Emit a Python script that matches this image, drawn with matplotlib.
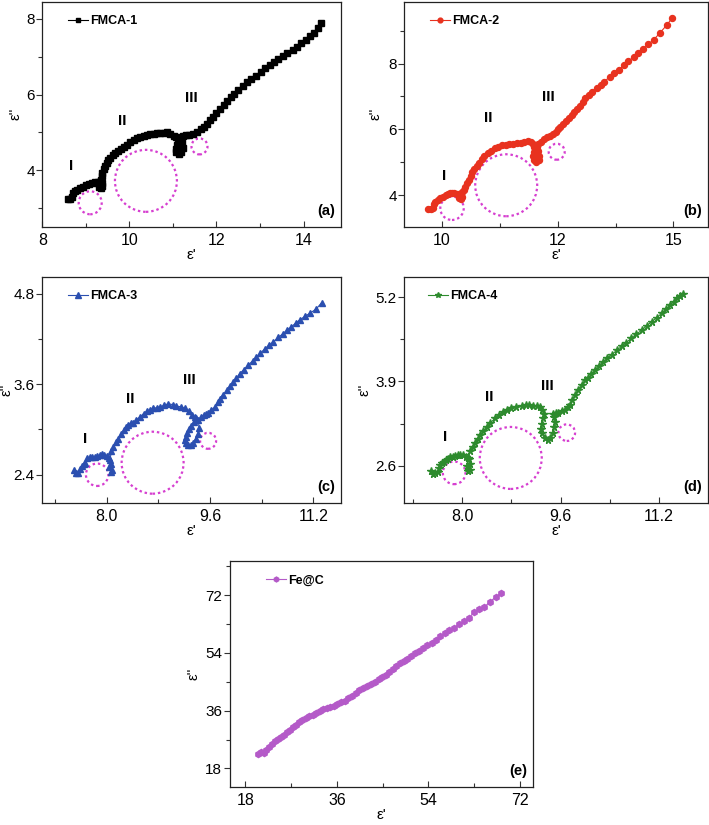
import matplotlib
matplotlib.use("Agg")
import matplotlib.pyplot as plt
from matplotlib.patches import Ellipse
from matplotlib.ticker import FormatStrFormatter

plt.rcParams["font.family"] = ["Liberation Sans", "DejaVu Sans"]

# --- DATA ---
x1 = [8.58, 8.63, 8.68, 8.71, 8.75, 8.80, 8.87, 8.94, 9.01, 9.08, 9.15, 9.22, 9.28, 9.32, 9.36, 9.38,
      9.35, 9.31, 9.30, 9.34, 9.36, 9.38, 9.41, 9.44, 9.48, 9.52, 9.56, 9.62, 9.68, 9.74, 9.80, 9.87,
      9.94, 10.02, 10.10, 10.18, 10.25, 10.33, 10.41, 10.48, 10.56, 10.64, 10.71, 10.79, 10.87, 10.94,
      11.02, 11.08, 11.12, 11.10, 11.07, 11.08, 11.13, 11.19, 11.22, 11.21, 11.18, 11.22, 11.30, 11.38,
      11.46, 11.56, 11.64, 11.71, 11.78, 11.86, 11.93, 12.00, 12.09, 12.17, 12.25, 12.33, 12.40, 12.50,
      12.60, 12.71, 12.80, 12.90, 13.02, 13.12, 13.22, 13.32, 13.42, 13.52, 13.63, 13.75, 13.86, 13.94,
      14.06, 14.15, 14.24, 14.33, 14.41]
y1 = [3.23, 3.24, 3.30, 3.39, 3.45, 3.48, 3.52, 3.55, 3.60, 3.64, 3.66, 3.68, 3.70, 3.69, 3.66, 3.58,
      3.52, 3.56, 3.64, 3.75, 3.85, 3.93, 4.02, 4.10, 4.19, 4.26, 4.33, 4.40, 4.46, 4.51, 4.57, 4.62,
      4.68, 4.75, 4.80, 4.85, 4.88, 4.91, 4.93, 4.95, 4.97, 4.98, 4.98, 4.99, 5.00, 4.97,
      4.91, 4.87, 4.80, 4.68, 4.57, 4.48, 4.43, 4.47, 4.58, 4.72, 4.85, 4.90, 4.93, 4.94,
      4.95, 5.02, 5.08, 5.15, 5.23, 5.33, 5.42, 5.52, 5.63, 5.73, 5.83, 5.93, 6.02, 6.12,
      6.22, 6.32, 6.40, 6.48, 6.59, 6.70, 6.78, 6.85, 6.93, 7.01, 7.10, 7.18, 7.27, 7.36,
      7.45, 7.54, 7.63, 7.75, 7.88]

x2 = [9.71, 9.76, 9.80, 9.83, 9.86, 9.91, 9.96, 10.02, 10.08, 10.13, 10.18, 10.22, 10.27, 10.32, 10.37,
      10.41, 10.44, 10.42, 10.38, 10.40, 10.44, 10.47, 10.50, 10.54, 10.58, 10.62, 10.66, 10.70, 10.75,
      10.80, 10.86, 10.92, 10.99, 11.06, 11.14, 11.22, 11.30, 11.38, 11.46, 11.54, 11.62, 11.70, 11.78,
      11.85, 11.92, 11.97, 12.00, 11.98, 11.97, 11.99, 12.04, 12.09, 12.10, 12.08, 12.05, 12.08, 12.14,
      12.20, 12.27, 12.34, 12.41, 12.46, 12.51, 12.56, 12.62, 12.68, 12.74, 12.80, 12.86, 12.92, 12.98,
      13.04, 13.10, 13.17, 13.25, 13.35, 13.43, 13.51, 13.62, 13.72, 13.83, 13.93, 14.03, 14.14, 14.24,
      14.35, 14.46, 14.57, 14.70, 14.86, 14.98]
y2 = [3.58, 3.57, 3.60, 3.72, 3.80, 3.85, 3.90, 3.95, 4.00, 4.04, 4.07, 4.07, 4.06, 4.04, 4.02,
      4.00, 3.95, 3.88, 3.92, 4.00, 4.08, 4.16, 4.25, 4.36, 4.47, 4.58, 4.69, 4.79, 4.90,
      4.99, 5.09, 5.18, 5.27, 5.35, 5.42, 5.47, 5.51, 5.53, 5.55, 5.56, 5.58, 5.60, 5.62,
      5.64, 5.62, 5.55, 5.45, 5.32, 5.18, 5.06, 5.02, 5.08, 5.20, 5.34, 5.46, 5.56, 5.63,
      5.70, 5.76, 5.81, 5.87, 5.93, 6.00, 6.07, 6.15, 6.24, 6.34, 6.43, 6.52, 6.62, 6.72,
      6.84, 6.95, 7.05, 7.14, 7.27, 7.35, 7.45, 7.60, 7.72, 7.82, 7.95, 8.07, 8.20, 8.31,
      8.45, 8.59, 8.72, 8.92, 9.18, 9.40]

x3 = [7.49, 7.52, 7.56, 7.59, 7.61, 7.64, 7.66, 7.70, 7.74, 7.77, 7.81, 7.85, 7.89, 7.92, 7.96, 8.00,
      8.04, 8.07, 8.08, 8.06, 8.04, 8.05, 8.07, 8.10, 8.14, 8.18, 8.22, 8.26, 8.30, 8.33, 8.37, 8.41,
      8.46, 8.52, 8.57, 8.62, 8.67, 8.72, 8.78, 8.83, 8.89, 8.95, 9.02, 9.08, 9.15, 9.21, 9.27, 9.32,
      9.36, 9.39, 9.35, 9.31, 9.27, 9.24, 9.22, 9.21, 9.23, 9.26, 9.30, 9.34, 9.38, 9.41, 9.43, 9.42,
      9.46, 9.50, 9.54, 9.57, 9.62, 9.68, 9.72, 9.75, 9.80, 9.86, 9.91, 9.96, 10.01, 10.06, 10.12,
      10.19, 10.26, 10.32, 10.38, 10.45, 10.52, 10.58, 10.66, 10.73, 10.80, 10.86, 10.93, 10.99,
      11.07, 11.15, 11.25, 11.33]
y3 = [2.46, 2.42, 2.43, 2.47, 2.51, 2.54, 2.56, 2.62, 2.63, 2.64, 2.64, 2.65, 2.66, 2.67, 2.66, 2.65,
      2.62, 2.54, 2.46, 2.44, 2.50, 2.60, 2.71, 2.77, 2.83, 2.88, 2.94, 2.99, 3.03, 3.06, 3.08, 3.09,
      3.13, 3.17, 3.21, 3.24, 3.26, 3.28, 3.29, 3.30, 3.32, 3.34, 3.33, 3.31, 3.30, 3.28, 3.24, 3.19,
      3.16, 3.15, 3.10, 3.05, 3.00, 2.95, 2.90, 2.86, 2.82, 2.80, 2.80, 2.82, 2.88, 2.94, 3.02, 3.12,
      3.17, 3.19, 3.21, 3.22, 3.26, 3.30, 3.36, 3.41, 3.46, 3.52, 3.58, 3.63, 3.68, 3.74, 3.79,
      3.85, 3.91, 3.96, 4.01, 4.07, 4.12, 4.16, 4.22, 4.27, 4.32, 4.36, 4.41, 4.45,
      4.50, 4.54, 4.60, 4.68]

x4 = [7.50, 7.53, 7.56, 7.60, 7.62, 7.64, 7.67, 7.70, 7.74, 7.77, 7.81, 7.85, 7.89, 7.93, 7.97, 8.02,
      8.07, 8.11, 8.13, 8.12, 8.09, 8.08, 8.10, 8.13, 8.17, 8.21, 8.25, 8.29, 8.34, 8.40, 8.46, 8.53,
      8.60, 8.67, 8.73, 8.80, 8.88, 8.97, 9.03, 9.09, 9.15, 9.21, 9.26, 9.30, 9.33, 9.31, 9.29, 9.28,
      9.30, 9.34, 9.39, 9.43, 9.47, 9.50, 9.51, 9.50, 9.47, 9.52, 9.56, 9.62, 9.67, 9.72, 9.75, 9.79,
      9.83, 9.88, 9.94, 10.00, 10.05, 10.10, 10.16, 10.22, 10.29, 10.36, 10.43, 10.51, 10.59, 10.67,
      10.75, 10.83, 10.92, 11.00, 11.08, 11.16, 11.24, 11.31, 11.38, 11.44, 11.49, 11.54, 11.59]
y4 = [2.52, 2.48, 2.49, 2.51, 2.56, 2.61, 2.64, 2.66, 2.69, 2.71, 2.73, 2.74, 2.75, 2.77, 2.77, 2.76,
      2.74, 2.70, 2.62, 2.54, 2.52, 2.60, 2.72, 2.82, 2.89, 2.95, 3.01, 3.07, 3.13, 3.20, 3.26, 3.33,
      3.38, 3.43, 3.46, 3.49, 3.51, 3.52, 3.54, 3.53, 3.52, 3.52, 3.50, 3.46, 3.40, 3.33, 3.25, 3.17,
      3.10, 3.02, 3.00, 3.03, 3.10, 3.20, 3.28, 3.35, 3.40, 3.41, 3.42, 3.44, 3.46, 3.50, 3.54, 3.61,
      3.69, 3.77, 3.85, 3.92, 3.95, 4.01, 4.08, 4.14, 4.20, 4.26, 4.31, 4.38, 4.44, 4.50,
      4.57, 4.63, 4.69, 4.76, 4.82, 4.88, 4.95, 5.01, 5.08, 5.13, 5.18, 5.22, 5.25]

x5 = [20.6, 21.1, 21.7, 22.1, 22.6, 23.2, 23.8, 24.4, 25.0, 25.6, 26.2, 26.8, 27.4, 28.0, 28.6, 29.2,
      29.9, 30.6, 31.3, 31.9, 32.6, 33.3, 34.0, 34.7, 35.4, 36.1, 36.8, 37.5, 38.2, 38.9, 39.7, 40.4,
      41.1, 41.9, 42.7, 43.5, 44.2, 44.9, 45.6, 46.3, 47.0, 47.7, 48.4, 49.1, 49.8, 50.5, 51.3, 52.1,
      52.9, 53.7, 54.6, 55.4, 56.3, 57.2, 58.1, 59.0, 60.0, 61.0, 62.0, 63.0, 64.0, 65.0, 66.1, 67.3, 68.2]
y5 = [22.4, 23.1, 22.7, 23.6, 24.6, 25.6, 26.5, 27.2, 27.8, 28.4, 29.2, 30.0, 30.8, 31.6, 32.3, 33.0,
      33.7, 34.2, 34.7, 35.2, 35.8, 36.4, 36.9, 37.2, 37.5, 38.0, 38.6, 39.1, 39.8, 40.6, 41.5, 42.3,
      43.0, 43.8, 44.4, 45.0, 45.7, 46.4, 47.2, 48.1, 49.0, 49.9, 50.7, 51.4, 52.1, 52.9, 53.8, 54.7,
      55.4, 56.3, 57.2, 58.1, 59.1, 60.1, 61.0, 61.8, 62.9, 64.0, 65.0, 66.6, 67.5, 68.3, 69.9, 71.5, 72.6]

names = ["FMCA-1", "FMCA-2", "FMCA-3", "FMCA-4", "Fe@C"]
tags = ["(a)", "(b)", "(c)", "(d)", "(e)"]

# dotted circles: centre (data) and radius in pixels
circles = [
    [(9.10, 3.14, 11.5), (10.38, 3.72, 31), (11.61, 4.63, 8)],
    [(10.22, 3.60, 11.7), (11.39, 4.30, 31), (12.48, 5.32, 8)],
    [(7.85, 2.40, 11.2), (8.71, 2.56, 31), (9.57, 2.85, 8)],
    [(7.87, 2.49, 11.3), (8.79, 2.72, 31), (9.70, 3.11, 8.3)],
    [],
]
# region labels I, II, III
regions = [
    [(8.66, 4.10), (9.83, 5.31), (11.43, 5.91)],
    [(10.05, 4.58), (11.01, 6.36), (12.30, 6.99)],
    [(7.66, 2.88), (8.37, 3.40), (9.28, 3.65)],
    [(7.73, 3.05), (8.44, 3.66), (9.39, 3.83)],
    [],
]

# --- STYLE ---
W, H = 709, 825
boxes = [(42.3, 341, 1.5, 227), (404.3, 707.7, 1.5, 227),
         (42.3, 341, 277, 502.7), (404.3, 707.7, 277, 502.7),
         (230, 533.3, 561, 786.7)]
colors = ["black", "#e8321f", "#2b4fb0", "#2e8b2e", "#b45ac8"]
markers = ["s", "o", "^", "*", "h"]
msizes = [3.8, 4.3, 4.6, 5.4, 4.4]
xlims = [(8, 14.86), (9.19, 15.74), (7.0, 11.63), (7.06, 11.99), (15, 74.6)]
ylims = [(2.5, 8.46), (3.03, 9.89), (2.03, 5.02), (2.03, 5.51), (12.3, 82.6)]
xmaj = [[8, 10, 12, 14], [10, 12.5, 15], [8.0, 9.6, 11.2], [8.0, 9.6, 11.2], [18, 36, 54, 72]]
xmin = [[9, 11, 13], [11.25, 13.75], [7.2, 8.8, 10.4], [7.2, 8.8, 10.4], [27, 45, 63]]
ymaj = [[4, 6, 8], [4, 6, 8], [2.4, 3.6, 4.8], [2.6, 3.9, 5.2], [18, 36, 54, 72]]
ymin = [[3, 5, 7], [5, 7, 9], [3.0, 4.2], [3.25, 4.55], [27, 45, 63, 81]]
fmts = ["%d", "%d", "%.1f", "%.1f", "%d"]
ylab_off = [25, 27, 34, 38, 34]      # y-label centre, px left of the spine
leg_x = [0.053, 0.051, 0.053, 0.046, 0.085]
xs = [x1, x2, x3, x4, x5]
ys = [y1, y2, y3, y4, y5]

fig = plt.figure(figsize=(W / 100, H / 100), dpi=100)

for i in range(5):
    l, r, t, b = boxes[i]
    aw, ah = r - l, b - t
    ax = fig.add_axes([l / W, 1 - b / H, aw / W, ah / H])
    ax.plot(xs[i], ys[i], color=colors[i], marker=markers[i], ms=msizes[i], lw=0.8,
            mec=colors[i], label=names[i])
    ax.set_xlim(*xlims[i])
    ax.set_ylim(*ylims[i])
    ax.set_xticks(xmaj[i])
    ax.set_xticks(xmin[i], minor=True)
    ax.set_yticks(ymaj[i])
    ax.set_yticks(ymin[i], minor=True)
    ax.xaxis.set_major_formatter(FormatStrFormatter(fmts[i]))
    ax.yaxis.set_major_formatter(FormatStrFormatter(fmts[i]))
    ax.tick_params(axis="x", which="both", direction="in", labelsize=11.5, pad=4.5)
    ax.tick_params(axis="y", which="both", direction="out", labelsize=11, pad=1.2)
    ax.tick_params(which="major", length=4.3, width=0.8, color="#333333")
    ax.tick_params(which="minor", length=3, width=0.8, color="#333333")
    for sp in ax.spines.values():
        sp.set_linewidth(0.9)
        sp.set_color("#222222")

    ax.set_xlabel("ε'", fontsize=11)
    ax.set_ylabel("ε''", fontsize=10.5)
    ax.xaxis.set_label_coords(0.5, -21 / ah)
    ax.yaxis.set_label_coords(-(ylab_off[i] - 5) / aw, 0.5)

    # circles drawn round in pixel space
    pxu_x = aw / (xlims[i][1] - xlims[i][0])
    pxu_y = ah / (ylims[i][1] - ylims[i][0])
    for cx, cy, rad in circles[i]:
        ax.add_patch(Ellipse((cx, cy), 2 * rad / pxu_x, 2 * rad / pxu_y, fill=False,
                             ec="#d63fd0", lw=1.6, ls=(0, (1.1, 1.3))))
    for (tx, ty), txt in zip(regions[i], ["I", "II", "III"]):
        ax.text(tx, ty, txt, fontsize=11, fontweight="bold", ha="center", va="center")

    ax.text(0.98, 0.07, tags[i], transform=ax.transAxes, fontsize=10.5, fontweight="bold",
            ha="right", va="center")
    ax.legend(loc="upper left", bbox_to_anchor=(leg_x[i], 0.985), frameon=False,
              prop={"weight": "bold", "size": 9}, handlelength=1.6, handletextpad=0.15,
              borderpad=0.3, markerscale=0.8)

fig.savefig("out.png", dpi=100)
